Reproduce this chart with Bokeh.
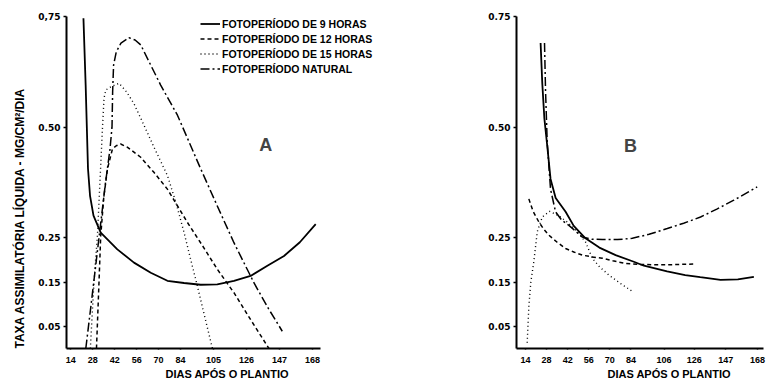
from bokeh.plotting import figure
from bokeh.layouts import row
from bokeh.models import Range1d, FixedTicker, Legend, LegendItem, Label, Title
from bokeh.embed import file_html
from bokeh.resources import INLINE

# ---------------- data (days after planting, net assimilation rate) ----------------
# Panel A
a9_x = [22.1, 23.5, 25.0, 26.3, 28.5, 33.1, 43.7, 54.3, 65.0, 75.6, 86.2, 96.8, 107.4, 118.0, 128.6, 139.3, 149.9, 160.0, 170.1]
a9_y = [0.746, 0.596, 0.406, 0.345, 0.300, 0.262, 0.224, 0.194, 0.171, 0.153, 0.148, 0.144, 0.145, 0.153, 0.164, 0.187, 0.209, 0.240, 0.281]

a12_x = [30.4, 31.8, 33.1, 35.0, 37.4, 40.6, 43.0, 45.8, 50.0, 58.6, 67.0, 75.6, 88.3, 98.0, 107.4, 118.0, 129.0, 140.3]
a12_y = [0.0, 0.13, 0.254, 0.34, 0.406, 0.451, 0.458, 0.462, 0.455, 0.432, 0.398, 0.36, 0.285, 0.232, 0.179, 0.126, 0.063, 0.0]

a15_x = [26.5, 28.8, 31.0, 32.8, 34.2, 35.2, 36.3, 40.0, 44.8, 49.5, 54.3, 59.7, 67.0, 75.6, 81.0, 86.2, 90.5, 94.7, 99.5, 104.3]
a15_y = [0.0, 0.15, 0.255, 0.39, 0.497, 0.565, 0.584, 0.592, 0.599, 0.58, 0.553, 0.512, 0.455, 0.391, 0.33, 0.262, 0.2, 0.141, 0.07, 0.0]

aN_x = [23.6, 27.0, 30.0, 33.0, 36.0, 39.0, 40.3, 40.7, 41.3, 43.0, 46.0, 51.1, 55.0, 58.6, 65.0, 71.3, 82.0, 96.8, 107.0, 118.0, 130.8, 140.0, 148.8]
aN_y = [0.0, 0.10, 0.19, 0.28, 0.37, 0.45, 0.50, 0.58, 0.64, 0.67, 0.69, 0.702, 0.697, 0.686, 0.64, 0.595, 0.527, 0.406, 0.325, 0.239, 0.148, 0.09, 0.039]

# Panel B
b9_x = [24.0, 25.1, 26.5, 28.4, 30.6, 34.0, 40.6, 46.0, 53.8, 63.0, 73.8, 85.9, 92.6, 108.0, 120.0, 130.0, 143.5, 155.0, 165.6]
b9_y = [0.69, 0.60, 0.52, 0.458, 0.383, 0.34, 0.309, 0.277, 0.249, 0.228, 0.211, 0.196, 0.187, 0.174, 0.166, 0.161, 0.155, 0.156, 0.162]

b12_x = [16.2, 19.0, 22.8, 26.0, 29.5, 35.0, 40.6, 46.0, 51.6, 58.0, 64.9, 72.0, 80.4, 90.0, 100.0, 108.0, 117.0, 126.9]
b12_y = [0.338, 0.31, 0.286, 0.27, 0.256, 0.24, 0.226, 0.218, 0.211, 0.207, 0.204, 0.198, 0.192, 0.19, 0.189, 0.189, 0.19, 0.191]

b15_x = [15.1, 16.2, 17.5, 19.5, 21.8, 25.1, 30.0, 36.0, 42.0, 48.0, 53.8, 58.3, 63.0, 69.3, 77.0, 84.9]
b15_y = [0.013, 0.095, 0.15, 0.196, 0.264, 0.297, 0.31, 0.30, 0.285, 0.265, 0.241, 0.204, 0.185, 0.166, 0.147, 0.129]

bN_x = [26.6, 27.3, 28.4, 30.6, 33.9, 38.0, 42.8, 51.6, 58.0, 64.9, 75.0, 84.9, 96.0, 108.1, 119.0, 130.2, 141.0, 152.3, 167.8]
bN_y = [0.69, 0.58, 0.466, 0.36, 0.309, 0.29, 0.278, 0.252, 0.247, 0.246, 0.246, 0.249, 0.258, 0.271, 0.283, 0.297, 0.315, 0.335, 0.365]

x_ticks_a = [14, 28, 42, 56, 70, 84, 105, 126, 147, 168]
x_ticks_b = [14, 28, 42, 56, 70, 84, 106, 126, 147, 168]
y_ticks = [0.05, 0.15, 0.25, 0.50, 0.75]
y_labels_a = ["0.05", "0.15", "0.25", "0.50", "0,75"]
y_labels_b = ["0.05", "0.15", "0.25", "0.50", "0.75"]

legend_labels = ["FOTOPERÍODO DE 9 HORAS", "FOTOPERÍODO DE 12 HORAS",
                 "FOTOPERÍODO DE 15 HORAS", "FOTOPERÍODO NATURAL"]
y_title = "TAXA ASSIMILATÓRIA LÍQUIDA - MG/CM²/DIA"
x_title = "DIAS APÓS O PLANTIO"

# ---------------- styles ----------------
styles = [
    dict(line_dash="solid", line_width=1.8),
    dict(line_dash="4 3", line_width=1.5),
    dict(line_dash="1 3", line_width=1.4),
    dict(line_dash="9 3 2 3", line_width=1.5),
]
FONT = "Liberation Sans"


def make_fig(width, height, xr, x_bounds, mbl, mbr, mbt, mbb, xticks, ylabels, title_offset):
    p = figure(width=width, height=height, x_range=Range1d(*xr), y_range=Range1d(0, 0.75),
               output_backend="svg", toolbar_location=None,
               min_border_left=mbl, min_border_right=mbr, min_border_top=mbt, min_border_bottom=mbb)
    p.grid.visible = False
    p.outline_line_color = None
    p.background_fill_color = "white"
    p.border_fill_color = "white"

    p.xaxis.ticker = FixedTicker(ticks=xticks, minor_ticks=[])
    p.xaxis.major_label_overrides = {t: str(t) for t in xticks}
    p.xaxis.bounds = x_bounds
    p.yaxis.ticker = FixedTicker(ticks=y_ticks, minor_ticks=[])
    p.yaxis.major_label_overrides = {t: l for t, l in zip(y_ticks, ylabels)}

    for ax in (p.xaxis[0], p.yaxis[0]):
        ax.axis_line_width = 2
        ax.axis_line_color = "black"
        ax.major_tick_line_color = "black"
        ax.major_tick_line_width = 1.5
        ax.major_tick_in = 0
        ax.minor_tick_line_color = None
        ax.major_label_text_color = "black"
        ax.major_label_text_font_style = "bold"
    p.xaxis.major_tick_out = 1
    p.xaxis.major_label_standoff = 7
    p.xaxis.major_label_text_font = FONT
    p.xaxis.major_label_text_font_size = "9px"
    p.yaxis.major_tick_out = 3
    p.yaxis.major_label_standoff = 3
    p.yaxis.major_label_text_font = "DejaVu Sans"
    p.yaxis.major_label_text_font_size = "9px"

    p.add_layout(Title(text=x_title, align="left", offset=title_offset, standoff=1,
                       text_font=FONT, text_font_style="bold", text_font_size="11px",
                       text_color="black"), "below")
    return p


# Both frames share vertical extent (page y 16..348)
# Panel A frame: x 66..375 (axis line to 320)
pa = make_fig(387, 385, (11.3, 208.2), (11.3, 173.2), 66, 12, 16, 37, x_ticks_a, y_labels_a, 99)
# Panel B frame: x 516..763
pb = make_fig(384, 385, (8.0, 172.0), (8.0, 172.0), 129, 8, 16, 37, x_ticks_b, y_labels_b, 91)

pa.add_layout(Title(text=y_title, align="left", standoff=18,
                    text_font=FONT, text_font_style="bold", text_font_size="12px",
                    text_color="black"), "left")

ra = []
for xs, ys, st in zip([a9_x, a12_x, a15_x, aN_x], [a9_y, a12_y, a15_y, aN_y], styles):
    ra.append(pa.line(xs, ys, line_color="black", **st))
for xs, ys, st in zip([b9_x, b12_x, b15_x, bN_x], [b9_y, b12_y, b15_y, bN_y], styles):
    pb.line(xs, ys, line_color="black", **st)

legend = Legend(items=[LegendItem(label=l, renderers=[r]) for l, r in zip(legend_labels, ra)],
                location=(134, 272), orientation="vertical",
                label_text_font=FONT, label_text_font_style="bold", label_text_font_size="10.5px",
                label_text_color="black",
                glyph_width=20, glyph_height=15, label_height=15, label_standoff=2,
                spacing=0, padding=0, margin=0,
                border_line_color=None, background_fill_alpha=0)
pa.add_layout(legend)

pa.add_layout(Label(x=138.2, y=0.459, text="A", text_font=FONT, text_font_style="bold",
                    text_font_size="18px", text_align="center", text_baseline="middle"))
pb.add_layout(Label(x=83.7, y=0.458, text="B", text_font=FONT, text_font_style="bold",
                    text_font_size="18px", text_align="center", text_baseline="middle"))

layout = row(pa, pb)
open("out.html", "w").write(file_html(layout, INLINE))
